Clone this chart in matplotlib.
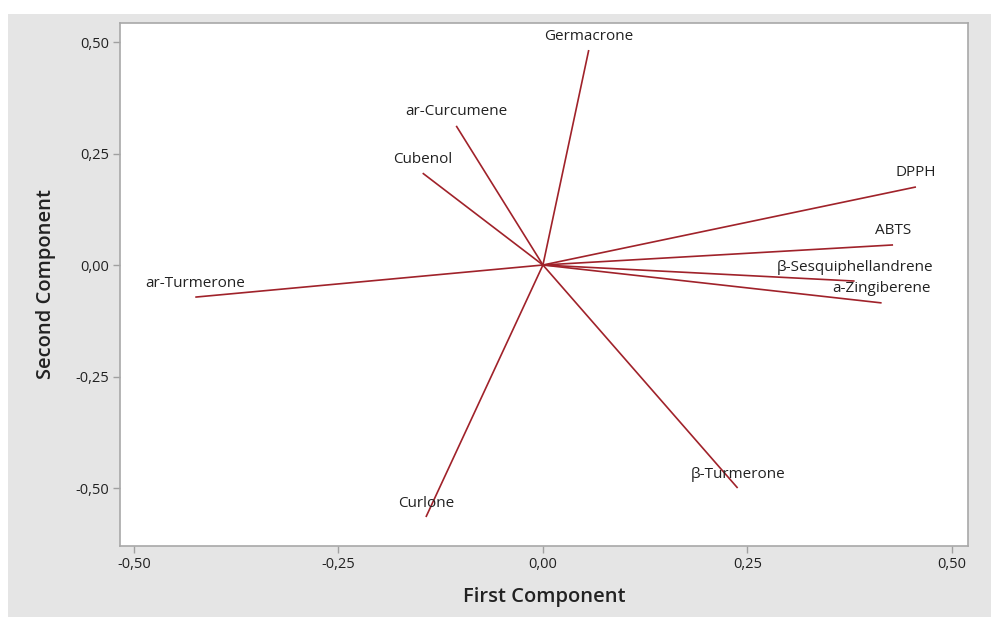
import matplotlib
matplotlib.use("Agg")
import matplotlib.pyplot as plt
from matplotlib.patches import Rectangle
from matplotlib.ticker import FixedLocator, FuncFormatter

plt.rcParams['font.family'] = ['Open Sans', 'DejaVu Sans']

variables = ["Germacrone", "ar-Curcumene", "Cubenol", "DPPH", "ABTS",
             "β-Sesquiphellandrene", "a-Zingiberene", "ar-Turmerone",
             "β-Turmerone", "Curlone"]
pc1 = [0.056, -0.106, -0.147, 0.456, 0.428, 0.381, 0.414, -0.425, 0.238, -0.143]
pc2 = [0.482, 0.312, 0.206, 0.175, 0.045, -0.036, -0.085, -0.072, -0.500, -0.565]
ticks = [-0.50, -0.25, 0.00, 0.25, 0.50]

W, H = 991, 617
fig = plt.figure(figsize=(W / 100, H / 100), dpi=100, facecolor="white")
bg = Rectangle((8 / W, 0), 1 - 8 / W, (H - 14) / H,
               transform=fig.transFigure, facecolor="#e5e5e5",
               edgecolor="none", zorder=-10)
fig.patches.append(bg)

ax = fig.add_axes([120 / W, (H - 546) / H, (968 - 120) / W, (546 - 23) / H])
ax.set_zorder(5)
ax.set_facecolor("white")
ax.set_xlim(-0.517, 0.5196)
ax.set_ylim(-0.630, 0.5426)

line_color = "#a0222a"
for name, x, y in zip(variables, pc1, pc2):
    ax.plot([0, x], [0, y], color=line_color, lw=1.2, solid_capstyle="butt")
    ax.annotate(name, (x, y), xytext=(0, 14), textcoords="offset pixels",
                ha="center", va="center", fontsize=11, color="#222222")

fmt = FuncFormatter(lambda v, p: f"{v:.2f}".replace(".", ","))
ax.xaxis.set_major_locator(FixedLocator(ticks))
ax.yaxis.set_major_locator(FixedLocator(ticks))
ax.xaxis.set_major_formatter(fmt)
ax.yaxis.set_major_formatter(fmt)
ax.tick_params(direction="out", length=5, width=1, color="#a0a0a0",
               labelsize=10.5, labelcolor="#222222", pad=3)
for s in ax.spines.values():
    s.set_color("#a8a8a8")
    s.set_linewidth(1.2)

ax.set_xlabel("First Component", fontsize=14.5, fontweight="semibold",
              color="#222222", labelpad=11)
ax.set_ylabel("Second Component", fontsize=14.5, fontweight="semibold",
              color="#222222", labelpad=14)

fig.savefig("out.png", dpi=100, facecolor=fig.get_facecolor())
